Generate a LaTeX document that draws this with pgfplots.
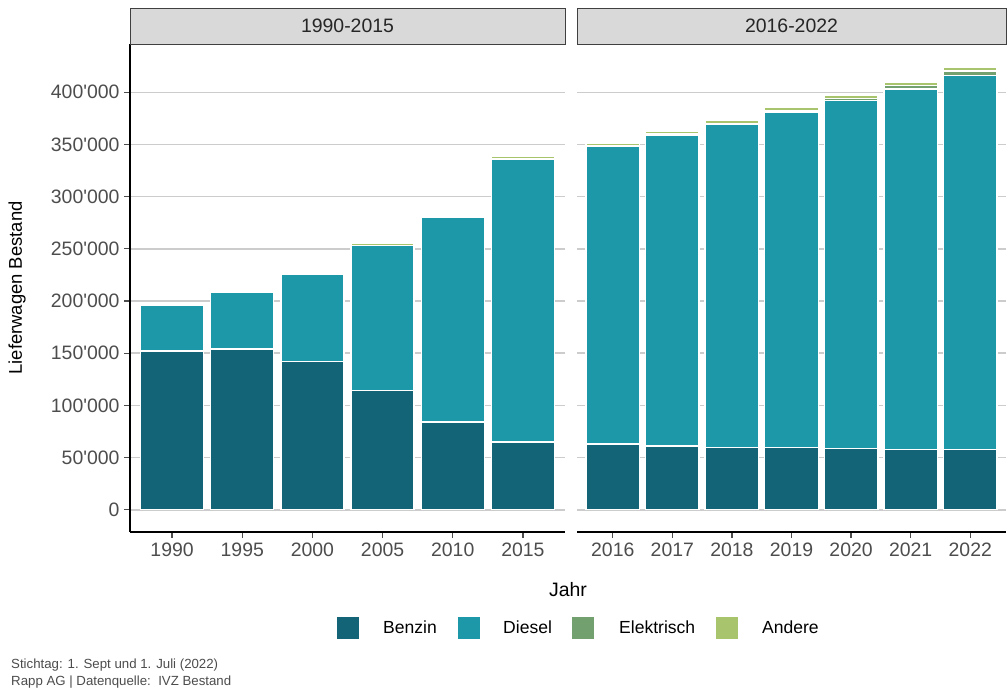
\documentclass[border=0pt]{standalone}
\usepackage{fontspec}
\setmainfont{Liberation Sans}
\usepackage{pgfplots}
\pgfplotsset{compat=1.18}
\definecolor{benzin}{RGB}{20,100,120}
\definecolor{diesel}{RGB}{28,152,168}
\definecolor{elektrisch}{RGB}{114,160,110}
\definecolor{andere}{RGB}{168,196,108}
\definecolor{stripgray}{RGB}{217,217,217}
\definecolor{ticktext}{RGB}{77,77,77}
\newcommand\q{\textquotesingle}
\pgfplotstableread{
x benzin diesel elektrisch andere
1 152000 44000 100 1500
2 154000 54000 100 1500
3 142000 84000 200 1500
4 114000 139000 300 1500
5 84000 196000 500 2000
6 65000 271000 800 2000
}\left
\pgfplotstableread{
x benzin diesel elektrisch andere
1 63000 285000 800 2000
2 61000 298000 1000 2200
3 60000 309000 1300 2400
4 59500 321500 1600 2600
5 58500 333500 2200 2800
6 57500 345500 3200 3000
7 57500 358500 4500 3500
}\right
\pgfplotsset{
  common/.style={
    scale only axis, height=488bp,
    ymin=-21250, ymax=446250,
    ybar stacked, bar shift=0pt,
    ytick={0,50000,100000,150000,200000,250000,300000,350000,400000},
    ymajorgrids, grid style={color=black!20, line width=1.5bp},
    axis x line=bottom, axis y line=left,
    every outer x axis line/.append style={-},
    every outer y axis line/.append style={-},
    every inner x axis line/.append style={-},
    every inner y axis line/.append style={-},
    x axis line style={-, line width=1.8bp, black},
    y axis line style={-, line width=1.8bp, black},
    tick align=outside, major tick length=6bp,
    tick style={color=black!70, line width=1.2bp},
    ticklabel style={font=\fontsize{19.5}{23}\selectfont, text=ticktext},
    xticklabel style={yshift=-1bp},
    yticklabel style={xshift=-1bp},
    every axis plot/.append style={draw=white, line width=1.3bp},
  }
}
\begin{document}
\begin{tikzpicture}[x=1bp,y=1bp]
\useasboundingbox (0,0) rectangle (1007,691);
\begin{axis}[common, at={(130bp,159bp)}, anchor=south west,
  width=435bp, xmin=0.4, xmax=6.6, bar width=63bp,
  xtick={1,2,3,4,5,6}, xticklabels={1990,1995,2000,2005,2010,2015},
  yticklabels={0,50\q000,100\q000,150\q000,200\q000,250\q000,300\q000,350\q000,400\q000}]
\addplot[fill=benzin] table[x=x,y=benzin]{\left};
\addplot[fill=diesel] table[x=x,y=diesel]{\left};
\addplot[fill=elektrisch] table[x=x,y=elektrisch]{\left};
\addplot[fill=andere] table[x=x,y=andere]{\left};
\end{axis}
\begin{axis}[common, at={(577bp,159bp)}, anchor=south west,
  width=429bp, xmin=0.4, xmax=7.6, bar width=53.6bp,
  y axis line style={draw=none}, ytick style={draw=none}, yticklabels={},
  xtick={1,2,3,4,5,6,7}, xticklabels={2016,2017,2018,2019,2020,2021,2022}]
\addplot[fill=benzin] table[x=x,y=benzin]{\right};
\addplot[fill=diesel] table[x=x,y=diesel]{\right};
\addplot[fill=elektrisch] table[x=x,y=elektrisch]{\right};
\addplot[fill=andere] table[x=x,y=andere]{\right};
\end{axis}
% strips
\draw[fill=stripgray, draw=black!75, line width=0.8bp] (130,647) rectangle (565,683);
\node[font=\fontsize{19.5}{23}\selectfont, text=black!85] at (347.5,665) {1990-2015};
\draw[fill=stripgray, draw=black!75, line width=0.8bp] (577,647) rectangle (1006.5,683);
\node[font=\fontsize{19.5}{23}\selectfont, text=black!85] at (791.5,665) {2016-2022};
% axis titles
\node[font=\fontsize{18.5}{22}\selectfont, rotate=90] at (17,403) {Lieferwagen Bestand};
\node[font=\fontsize{19.5}{23}\selectfont, anchor=base] at (568,94) {Jahr};
% legend
\fill[benzin] (337,52) rectangle (359,74);
\node[font=\fontsize{17.6}{21}\selectfont, anchor=base west, inner sep=0] at (383,57) {Benzin};
\fill[diesel] (458,52) rectangle (480,74);
\node[font=\fontsize{17.6}{21}\selectfont, anchor=base west, inner sep=0] at (503,57) {Diesel};
\fill[elektrisch] (572,52) rectangle (594,74);
\node[font=\fontsize{17.6}{21}\selectfont, anchor=base west, inner sep=0] at (619,57) {Elektrisch};
\fill[andere] (716,52) rectangle (738,74);
\node[font=\fontsize{17.6}{21}\selectfont, anchor=base west, inner sep=0] at (762,57) {Andere};
% footer
\node[font=\fontsize{13.3}{16}\selectfont, text=black!70, anchor=base west, inner sep=0] at (11,22) {Stichtag: 1. Sept und 1. Juli (2022)};
\node[font=\fontsize{13.3}{16}\selectfont, text=black!70, anchor=base west, inner sep=0] at (11,5) {Rapp AG | Datenquelle:\ \ IVZ Bestand};
\end{tikzpicture}
\end{document}
